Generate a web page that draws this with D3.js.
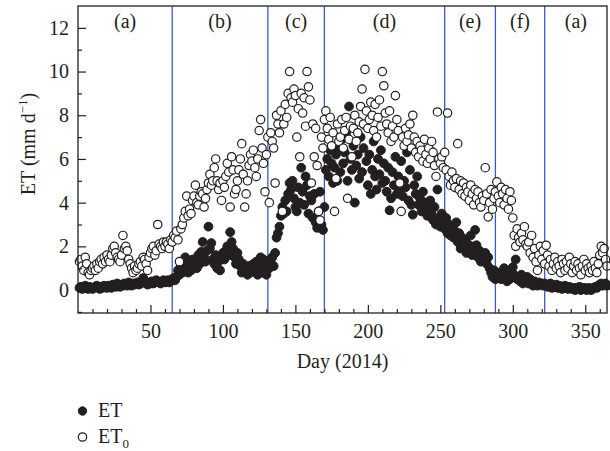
<!DOCTYPE html>
<html>
<head>
<meta charset="utf-8">
<script src="https://cdn.jsdelivr.net/npm/d3@7"></script>
<style>
  html, body { margin: 0; padding: 0; background: #fff; }
  svg { display: block; }
  text { font-family: "Liberation Serif", "Times New Roman", serif; fill: #231f20; }
</style>
</head>
<body>
<svg id="chart" width="610" height="451"></svg>
<script>
// Daily reference evapotranspiration ET0 (mm/d), day 1..365 of 2014
const et0 = [
  1.3, 1.4, 1.1, 0.9, 1.5, 1.2, 0.8, 0.7, 0.9, 1.0,
  1.1, 0.9, 1.2, 1.0, 1.3, 1.4, 1.2, 1.5, 1.3, 1.6,
  1.4, 1.3, 1.6, 1.9, 2.0, 1.7, 1.5, 1.4, 1.3, 1.6,
  2.5, 1.9, 2.0, 1.8, 1.4, 1.2, 1.0, 0.8, 1.1, 0.9,
  1.0, 1.2, 1.3, 1.1, 1.5, 1.4, 1.2, 0.9, 1.5, 1.7,
  1.9, 2.0, 1.6, 1.8, 3.0, 2.1, 2.0, 1.9, 2.2, 2.0,
  2.2, 2.1, 1.9, 2.3, 2.2, 2.5, 2.4, 2.7, 2.3, 1.3,
  2.8, 3.0, 3.3, 3.6, 4.3, 3.4, 3.7, 3.5, 4.1, 4.3,
  4.8, 4.0, 3.9, 4.3, 4.5, 4.4, 3.8, 4.2, 4.6, 4.9,
  5.3, 4.8, 5.0, 5.6, 6.0, 5.0, 4.6, 4.9, 4.1, 5.0,
  4.7, 5.2, 5.8, 5.4, 3.8, 6.1, 5.5, 4.4, 4.6, 5.0,
  5.5, 6.0, 6.7, 5.3, 3.8, 4.4, 5.0, 5.7, 6.2, 5.9,
  6.4, 5.6, 5.2, 6.0, 7.3, 7.8, 6.5, 5.8, 4.5, 6.2,
  7.0, 4.0, 7.2, 6.8, 6.5, 4.9, 8.0, 7.6, 7.2, 8.2,
  3.6, 7.6, 8.5, 7.9, 9.0, 10.0, 8.8, 8.6, 9.2, 8.9,
  7.0, 8.3, 6.1, 9.0, 8.1, 8.8, 7.5, 10.0, 9.3, 8.7,
  4.9, 7.6, 6.1, 7.4, 5.7, 3.6, 3.2, 7.0, 6.5, 7.8,
  8.2, 7.4, 6.9, 7.9, 6.6, 7.2, 3.6, 5.1, 7.6, 6.8,
  7.0, 7.8, 6.5, 7.3, 7.9, 4.2, 6.9, 7.5, 6.1, 7.4,
  8.0, 6.8, 7.2, 7.7, 8.4, 9.2, 7.6, 10.1, 8.2, 7.4,
  7.8, 8.6, 8.0, 7.3, 8.5, 7.0, 7.9, 8.7, 7.5, 10.0,
  9.35, 8.1, 7.6, 7.2, 8.2, 6.8, 7.5, 7.0, 8.9, 7.8,
  7.3, 4.9, 3.6, 7.0, 6.6, 7.4, 6.8, 7.1, 7.6, 6.5,
  8.0, 7.0, 6.3, 6.8, 6.1, 6.6, 6.4, 5.9, 6.9, 6.2,
  5.8, 6.5, 6.0, 6.8, 6.3, 5.7, 5.2, 8.15, 6.0, 5.8,
  6.1, 5.6, 6.3, 5.5, 8.1, 5.2, 4.8, 5.4, 5.0, 4.7,
  5.1, 6.7, 4.6, 5.0, 4.4, 4.9, 4.3, 4.7, 4.5, 4.1,
  4.8, 4.4, 3.9, 4.6, 4.2, 4.5, 4.0, 3.8, 4.3, 4.1,
  5.6, 4.4, 3.35, 4.0, 4.6, 3.7, 4.2, 4.5, 4.95, 4.3,
  4.0, 4.7, 4.4, 3.9, 4.6, 4.2, 3.7, 4.5, 4.1, 3.3,
  2.5, 2.0, 2.8, 2.4, 2.2, 2.6, 2.3, 2.9, 2.1, 2.0,
  2.2, 1.7, 2.5, 1.5, 1.9, 1.3, 0.9, 1.6, 2.0, 1.4,
  1.8, 1.2, 2.05, 1.6, 1.1, 1.4, 0.9, 1.2, 1.5, 1.0,
  1.3, 1.1, 0.8, 1.4, 1.2, 0.9, 1.3, 1.0, 1.5, 1.2,
  0.8, 1.1, 1.3, 0.9, 1.2, 1.0, 0.7, 1.1, 1.4, 0.9,
  1.2, 1.0, 0.8, 1.1, 0.9, 1.3, 1.0, 0.8, 1.2, 1.6,
  2.0, 1.7, 1.9, 1.4, 1.1
];

// Daily actual evapotranspiration ET (mm/d), day 1..365 of 2014
const et = [
  0.10, 0.15, 0.05, 0.10, 0.20, 0.10, 0.05, 0.15, 0.10, 0.05,
  0.10, 0.15, 0.20, 0.10, 0.05, 0.15, 0.10, 0.20, 0.15, 0.10,
  0.20, 0.15, 0.10, 0.25, 0.20, 0.15, 0.30, 0.20, 0.15, 0.25,
  0.20, 0.30, 0.25, 0.20, 0.35, 0.25, 0.20, 0.30, 0.25, 0.30,
  0.35, 0.25, 0.30, 0.40, 0.55, 0.35, 0.30, 0.25, 0.35, 0.30,
  0.40, 0.30, 0.35, 0.45, 0.40, 0.35, 0.30, 0.40, 0.45, 0.35,
  0.40, 0.45, 0.35, 0.40, 0.50, 0.55, 0.45, 0.60, 0.90, 0.70,
  1.10, 0.80, 1.30, 1.50, 1.00, 0.80, 1.20, 0.90, 1.40, 1.10,
  1.30, 1.00, 1.60, 1.20, 1.75, 2.20, 1.50, 1.30, 1.80, 2.90,
  1.90, 2.15, 1.40, 1.20, 1.60, 1.00, 1.30, 0.90, 1.50, 1.70,
  1.40, 1.80, 2.00, 1.60, 2.65, 2.20, 1.90, 1.50, 1.20, 1.70,
  1.40, 1.10, 0.80, 1.20, 1.00, 0.90, 0.70, 1.10, 0.80, 1.00,
  1.20, 0.90, 1.30, 0.70, 1.10, 1.50, 0.80, 1.40, 1.00, 0.70,
  1.20, 1.00, 1.40, 1.50, 1.10, 1.70, 2.40, 2.60, 2.90, 3.40,
  3.80, 3.50, 4.10, 3.60, 4.40, 4.90, 4.60, 5.00, 4.20, 3.80,
  3.60, 4.70, 4.00, 5.60, 4.50, 3.90, 5.20, 4.80, 3.50, 4.30,
  4.10, 3.30, 4.40, 3.10, 2.85, 3.60, 4.50, 3.00, 2.75, 3.80,
  5.50, 6.00, 5.20, 6.40, 5.80, 4.90, 5.60, 6.20, 5.00, 6.50,
  5.40, 6.90, 5.80, 6.30, 7.20, 5.00, 8.40, 6.00, 5.50, 6.60,
  4.00, 5.70, 6.20, 5.10, 7.00, 5.40, 6.50, 7.55, 5.90, 4.80,
  6.20, 4.40, 5.50, 6.80, 5.20, 4.60, 6.00, 5.30, 6.40, 4.90,
  5.80, 5.00, 4.50, 5.60, 3.65, 4.20, 5.40, 4.80, 6.10, 4.40,
  5.20, 4.60, 5.90, 4.30, 5.00, 4.70, 6.30, 4.10, 5.50, 3.90,
  3.45, 4.80, 4.40, 5.20, 3.90, 4.20, 3.60, 4.50, 3.80, 4.00,
  3.40, 3.70, 4.10, 3.50, 3.20, 3.80, 3.00, 4.60, 3.30, 2.90,
  3.50, 3.10, 2.80, 3.30, 2.60, 3.00, 2.50, 2.90, 2.40, 2.70,
  3.10, 2.20, 2.60, 1.90, 2.40, 2.00, 2.30, 1.70, 2.10, 1.80,
  2.50, 1.60, 2.00, 2.75, 2.05, 1.50, 1.80, 1.30, 1.60, 1.40,
  1.70, 1.20, 1.50, 1.00, 0.80, 0.60, 0.90, 0.50, 0.70, 0.60,
  0.80, 0.50, 0.70, 1.00, 0.60, 0.40, 0.80, 0.50, 0.60, 1.05,
  0.70, 1.40, 0.50, 0.60, 0.40, 0.70, 0.30, 0.50, 0.40, 0.60,
  0.30, 0.50, 0.40, 0.20, 0.40, 0.30, 0.20, 0.35, 0.25, 0.30,
  0.20, 0.30, 0.25, 0.15, 0.20, 0.30, 0.10, 0.20, 0.15, 0.25,
  0.10, 0.20, 0.15, 0.05, 0.10, 0.20, 0.10, 0.05, 0.15, 0.10,
  0.05, 0.10, 0.00, 0.10, 0.05, 0.15, 0.00, 0.10, 0.05, 0.10,
  0.00, 0.05, 0.10, 0.00, 0.05, 0.10, 0.15, 0.10, 0.20, 0.25,
  0.30, 0.20, 0.25, 0.30, 0.20
];

// Growth-stage boundaries (day of year) and stage labels
const stageBounds = [65, 131, 170, 253, 288, 322];
const stageLabels = ["(a)", "(b)", "(c)", "(d)", "(e)", "(f)", "(a)"];

const xMajorTicks = [50, 100, 150, 200, 250, 300, 350];
const yMajorTicks = [0, 2, 4, 6, 8, 10, 12];

const svg = d3.select("#chart");
const plotL = 78, plotR = 607, plotT = 6, plotB = 313;

const x = d3.scaleLinear().domain([0, 365]).range([plotL, plotR]);
const y = d3.scaleLinear().domain([-1.05, 13]).range([plotB, plotT]);

const ink = "#231f20";

// Stage separators
svg.append("g").selectAll("line")
  .data(stageBounds).join("line")
  .attr("x1", d => x(d)).attr("x2", d => x(d))
  .attr("y1", plotT).attr("y2", plotB)
  .attr("stroke", "#3b5cc4").attr("stroke-width", 1.3);

// Stage labels centred between separators
const edges = [0, ...stageBounds, 365];
svg.append("g").selectAll("text")
  .data(stageLabels).join("text")
  .attr("x", (d, i) => (x(edges[i]) + x(edges[i + 1])) / 2)
  .attr("y", 28)
  .attr("text-anchor", "middle")
  .attr("font-size", 20)
  .text(d => d);

const days = d3.range(1, 366);

// ET (filled) beneath ET0 (open)
svg.append("g").selectAll("circle")
  .data(days).join("circle")
  .attr("cx", d => x(d)).attr("cy", d => y(et[d - 1]))
  .attr("r", 4.4)
  .attr("fill", ink).attr("stroke", ink).attr("stroke-width", 1);

svg.append("g").selectAll("circle")
  .data(days).join("circle")
  .attr("cx", d => x(d)).attr("cy", d => y(et0[d - 1]))
  .attr("r", 4.2)
  .attr("fill", "#fff").attr("stroke", ink).attr("stroke-width", 1.2);

// Axes with inward ticks
svg.append("g").attr("transform", `translate(${plotL},0)`)
  .call(d3.axisLeft(y).tickValues(yMajorTicks).tickSize(-8).tickSizeOuter(0).tickPadding(9));
svg.append("g").attr("transform", `translate(${plotL},0)`)
  .call(d3.axisLeft(y).tickValues(d3.range(-1, 13, 2)).tickSize(-4).tickSizeOuter(0).tickFormat(""));
svg.append("g").attr("transform", `translate(0,${plotB})`)
  .call(d3.axisBottom(x).tickValues(xMajorTicks).tickSize(-8).tickSizeOuter(0).tickPadding(11));
svg.append("g").attr("transform", `translate(0,${plotB})`)
  .call(d3.axisBottom(x).tickValues(d3.range(10, 365, 10).filter(v => v % 50 !== 0)).tickSize(-4).tickSizeOuter(0).tickFormat(""));

svg.selectAll(".domain").remove();
svg.selectAll(".tick line").attr("stroke", ink).attr("stroke-width", 1.2);
svg.selectAll(".tick text").attr("font-size", 20).attr("fill", ink)
  .attr("font-family", '"Liberation Serif", "Times New Roman", serif');

// Plot frame
svg.append("rect")
  .attr("x", plotL).attr("y", plotT)
  .attr("width", plotR - plotL).attr("height", plotB - plotT)
  .attr("fill", "none").attr("stroke", ink).attr("stroke-width", 1.3);

// Axis titles
svg.append("text")
  .attr("x", (plotL + plotR) / 2).attr("y", 368)
  .attr("text-anchor", "middle").attr("font-size", 20)
  .text("Day (2014)");

const yt = svg.append("text")
  .attr("transform", "translate(35,144) rotate(-90)")
  .attr("text-anchor", "middle").attr("font-size", 20);
yt.append("tspan").text("ET (mm d");
yt.append("tspan").attr("font-size", 13).attr("dy", -8).text("\u22121");
yt.append("tspan").attr("dy", 8).text(")");

// Legend
const legend = svg.append("g");
legend.append("circle").attr("cx", 82.5).attr("cy", 411).attr("r", 4.2)
  .attr("fill", ink).attr("stroke", ink);
legend.append("text").attr("x", 98).attr("y", 417).attr("font-size", 20).text("ET");
legend.append("circle").attr("cx", 82.5).attr("cy", 437).attr("r", 4.2)
  .attr("fill", "#fff").attr("stroke", ink).attr("stroke-width", 1.2);
const l2 = legend.append("text").attr("x", 98).attr("y", 443).attr("font-size", 20);
l2.append("tspan").text("ET");
l2.append("tspan").attr("font-size", 13).attr("dy", 5).text("0");
</script>
</body>
</html>
